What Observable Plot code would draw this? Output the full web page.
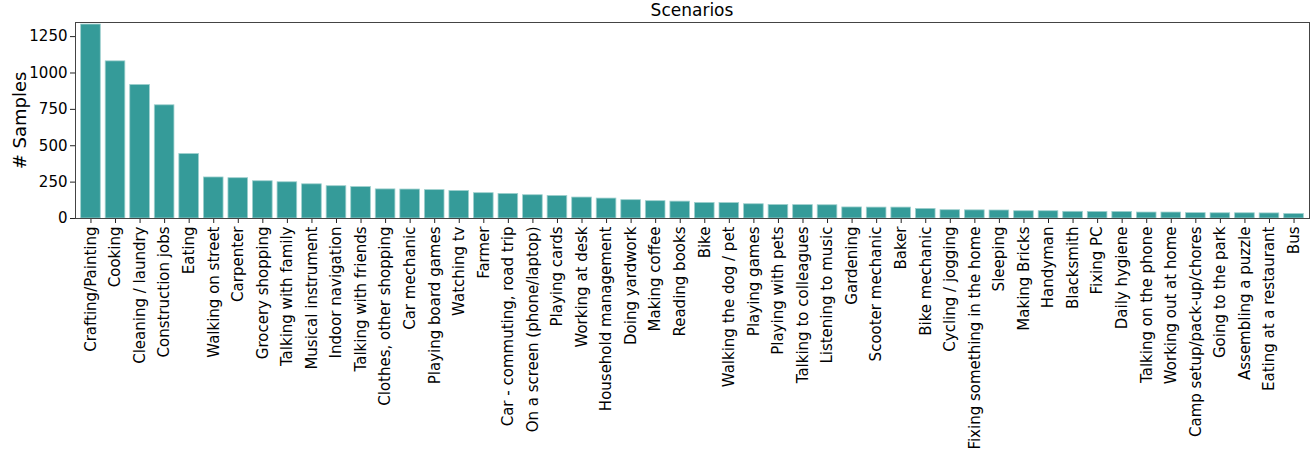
<!DOCTYPE html>
<html>
<head>
<meta charset="utf-8">
<script src="https://cdn.jsdelivr.net/npm/d3@7"></script>
<script src="https://cdn.jsdelivr.net/npm/@observablehq/plot@0.6"></script>
<style>
  html, body { margin: 0; padding: 0; background: #fff; }
  #title { height: 20px; line-height: 20px; font: 17px "DejaVu Sans", sans-serif; text-align: center; padding-left: 75px; padding-right: 3px; color: #000; box-sizing: border-box; width: 1312px; }
</style>
</head>
<body>
<div id="title"></div>
<div id="chart"></div>
<script>
const title = "Scenarios";
const yLabel = "# Samples";
const scenarios = [
  "Crafting/Painting", "Cooking", "Cleaning / laundry", "Construction jobs", "Eating",
  "Walking on street", "Carpenter", "Grocery shopping", "Talking with family", "Musical instrument",
  "Indoor navigation", "Talking with friends", "Clothes, other shopping", "Car mechanic", "Playing board games",
  "Watching tv", "Farmer", "Car - commuting, road trip", "On a screen (phone/laptop)", "Playing cards",
  "Working at desk", "Household management", "Doing yardwork", "Making coffee", "Reading books",
  "Bike", "Walking the dog / pet", "Playing games", "Playing with pets", "Talking to colleagues",
  "Listening to music", "Gardening", "Scooter mechanic", "Baker", "Bike mechanic",
  "Cycling / jogging", "Fixing something in the home", "Sleeping", "Making Bricks", "Handyman",
  "Blacksmith", "Fixing PC", "Daily hygiene", "Talking on the phone", "Working out at home",
  "Camp setup/pack-up/chores", "Going to the park", "Assembling a puzzle", "Eating at a restaurant", "Bus"
];
const samples = [
  1333, 1080, 918, 778, 443,
  282, 277, 256, 249, 235,
  222, 216, 200, 199, 195,
  189, 174, 169, 160, 155,
  144, 137, 126, 119, 116,
  107, 106, 98, 93, 92,
  91, 76, 75, 75, 66,
  57, 56, 55, 50, 50,
  46, 45, 45, 41, 41,
  37, 36, 36, 35, 31
];
const yTicks = [0, 250, 500, 750, 1000, 1250];

const data = scenarios.map((s, i) => ({scenario: s, n: samples[i]}));

document.getElementById("title").textContent = title;

const chart = Plot.plot({
  width: 1312,
  height: 434,
  marginTop: 2,
  marginBottom: 236,
  marginLeft: 75,
  marginRight: 3,
  style: {fontFamily: "DejaVu Sans, sans-serif", color: "#000", background: "#fff", overflow: "visible"},
  x: {domain: scenarios, paddingInner: 0.2, paddingOuter: 0.23, round: false},
  y: {domain: [0, 1347]},
  marks: [
    Plot.barY(data, {x: "scenario", y: "n", fill: "#359b99", stroke: "#9fd0ce", strokeWidth: 0.8}),
    Plot.axisX({tickRotate: -90, fontSize: 15, tickSize: 5, tickPadding: 3, label: null, stroke: "#222"}),
    Plot.axisY({ticks: yTicks, tickFormat: d => String(d), fontSize: 15, tickSize: 5, tickPadding: 3, label: null, stroke: "#222"}),
    Plot.axisY({ticks: [], label: yLabel, labelAnchor: "center", labelArrow: "none", labelOffset: 62, fontSize: 18}),
    Plot.frame({stroke: "#444", strokeWidth: 1})
  ]
});
document.getElementById("chart").appendChild(chart);
</script>
</body>
</html>
